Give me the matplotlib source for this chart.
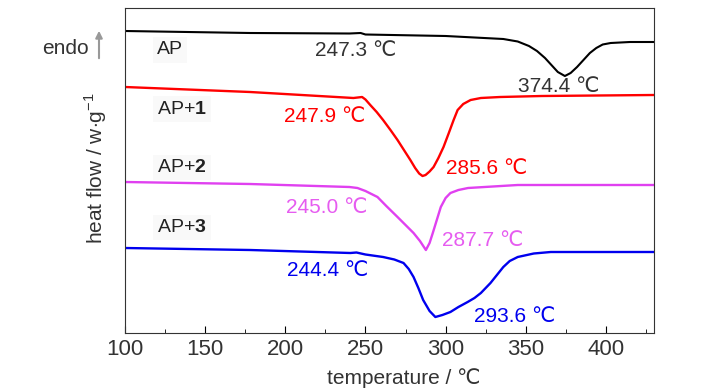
import matplotlib
matplotlib.use("Agg")
import matplotlib.pyplot as plt
from matplotlib import font_manager

# DSC curves of AP and AP with catalysts 1-3 (stacked, arbitrary offset units)
t_ap = [100, 178, 240, 247, 250, 300, 336, 345, 352, 357, 362, 366, 370, 374.4,
        378, 382, 386, 390, 394, 398, 403, 415, 430]
hf_ap = [302, 300, 299.5, 300, 298.5, 297, 294, 291.5, 287, 282, 275, 268, 261, 257,
         260, 266, 273, 280, 285, 288.5, 290, 291, 291]

t_ap1 = [100, 178, 242.5, 247.9, 250, 253, 257, 261, 265.6, 270, 274, 278, 281,
         283.5, 285.6, 287.5, 290, 292.5, 295.5, 298.7, 302, 305, 307.5, 311,
         315.6, 322, 334, 360, 430]
hf_ap1 = [246, 241, 235, 236, 233.5, 228, 221, 213, 203, 193, 183, 173, 165,
          159.5, 157, 158, 161.5, 166, 175, 186, 200, 213, 223, 229,
          233, 235, 236, 237, 238]

t_ap2 = [100, 178, 240, 245, 250, 257.5, 263, 270, 275, 280, 284, 287.7, 290, 292,
         294.5, 297, 300, 303, 308, 314, 345, 430]
hf_ap2 = [151, 149, 146, 145, 142, 136, 127, 116, 108, 100, 92, 83, 90, 100,
          113, 126, 135, 140, 143, 145, 148, 148]

t_ap3 = [100, 178, 240.6, 244.4, 250, 261, 268, 273.75, 277, 280, 283, 286, 290,
         293.6, 298, 303, 308, 313.75, 318, 322, 328, 332, 336, 340, 345,
         355, 365.6, 430]
hf_ap3 = [85, 83, 80, 80.5, 78.5, 76, 73.5, 70, 64, 56, 45, 33, 22,
          16, 18, 21, 26, 31, 35, 40, 50, 58, 66, 72, 76,
          79.5, 81, 81]

# peak / onset labels: (text, T, y, colour)
peak_labels = [
    ("247.3 ℃", 243.75, 283, "#333333"),
    ("374.4 ℃", 370.3, 247, "#333333"),
    ("247.9 ℃", 224.4, 217, "#ff0000"),
    ("285.6 ℃", 325.6, 164, "#ff0000"),
    ("245.0 ℃", 225.6, 125.5, "#e65cf0"),
    ("287.7 ℃", 323.4, 92, "#e65cf0"),
    ("244.4 ℃", 226.25, 62.5, "#0000ee"),
    ("293.6 ℃", 343.1, 17, "#0000ee"),
]
sample_names = ["AP", r"AP+$\mathbf{1}$", r"AP+$\mathbf{2}$", r"AP+$\mathbf{3}$"]
sample_y = [283, 224, 165.5, 105.5]

try:
    font_manager.findfont("Liberation Sans Narrow", fallback_to_default=False)
    base = "Liberation Sans Narrow"
    fs = 17
except Exception:
    base = "Liberation Sans"
    fs = 15

plt.rcParams["font.family"] = [base, "DejaVu Sans"]
plt.rcParams["mathtext.fontset"] = "custom"
plt.rcParams["mathtext.rm"] = base
plt.rcParams["mathtext.bf"] = base + ":bold"

fig = plt.figure(figsize=(7.28, 3.9), dpi=100)
ax = fig.add_axes([125 / 728, 1 - 333 / 390, 529 / 728, 325 / 390])

ax.plot(t_ap, hf_ap, color="#000000", lw=1.5)
ax.plot(t_ap1, hf_ap1, color="#ff0000", lw=1.7)
ax.plot(t_ap2, hf_ap2, color="#e040f0", lw=1.7)
ax.plot(t_ap3, hf_ap3, color="#0000ee", lw=1.7)

for txt, x, y, c in peak_labels:
    ax.text(x, y, txt, color=c, fontsize=fs, ha="center", va="center")

for name, y in zip(sample_names, sample_y):
    ax.text(120, y, name, color="#222222", fontsize=fs - 1, ha="left", va="center",
            bbox=dict(facecolor="#f9f9f9", edgecolor="none", pad=3))

ax.set_xlim(100, 430)
ax.set_ylim(0, 325)
ax.set_xticks([100, 150, 200, 250, 300, 350, 400])
ax.set_xticks([125, 175, 225, 275, 325, 375, 425], minor=True)
ax.set_yticks([])
ax.tick_params(axis="x", which="major", direction="in", length=5, labelsize=fs + 1,
               labelcolor="#333333", pad=4)
ax.tick_params(axis="x", which="minor", direction="in", length=3)
for s in ax.spines.values():
    s.set_color("#333333")

ax.set_xlabel("temperature / ℃", fontsize=fs, color="#333333")
ax.xaxis.set_label_coords((404 - 125) / 529, -(378 - 333) / 325, transform=ax.transAxes)
ax.xaxis.label.set_va("center")
fig.text(96 / 728, 1 - 168 / 390, r"heat flow / w$\cdot$g$^{-1}$", rotation=90,
         fontsize=fs, color="#333333", ha="center", va="center")

fig.text(65 / 728, 1 - 48 / 390, "endo", fontsize=fs, color="#333333",
         ha="center", va="center")
fig.add_artist(matplotlib.patches.FancyArrowPatch(
    (99 / 728, 1 - 61 / 390), (99 / 728, 1 - 28 / 390), transform=fig.transFigure,
    arrowstyle="-|>,head_length=4,head_width=2", color="#999999", lw=1.5))

fig.savefig("out.png", dpi=100)
